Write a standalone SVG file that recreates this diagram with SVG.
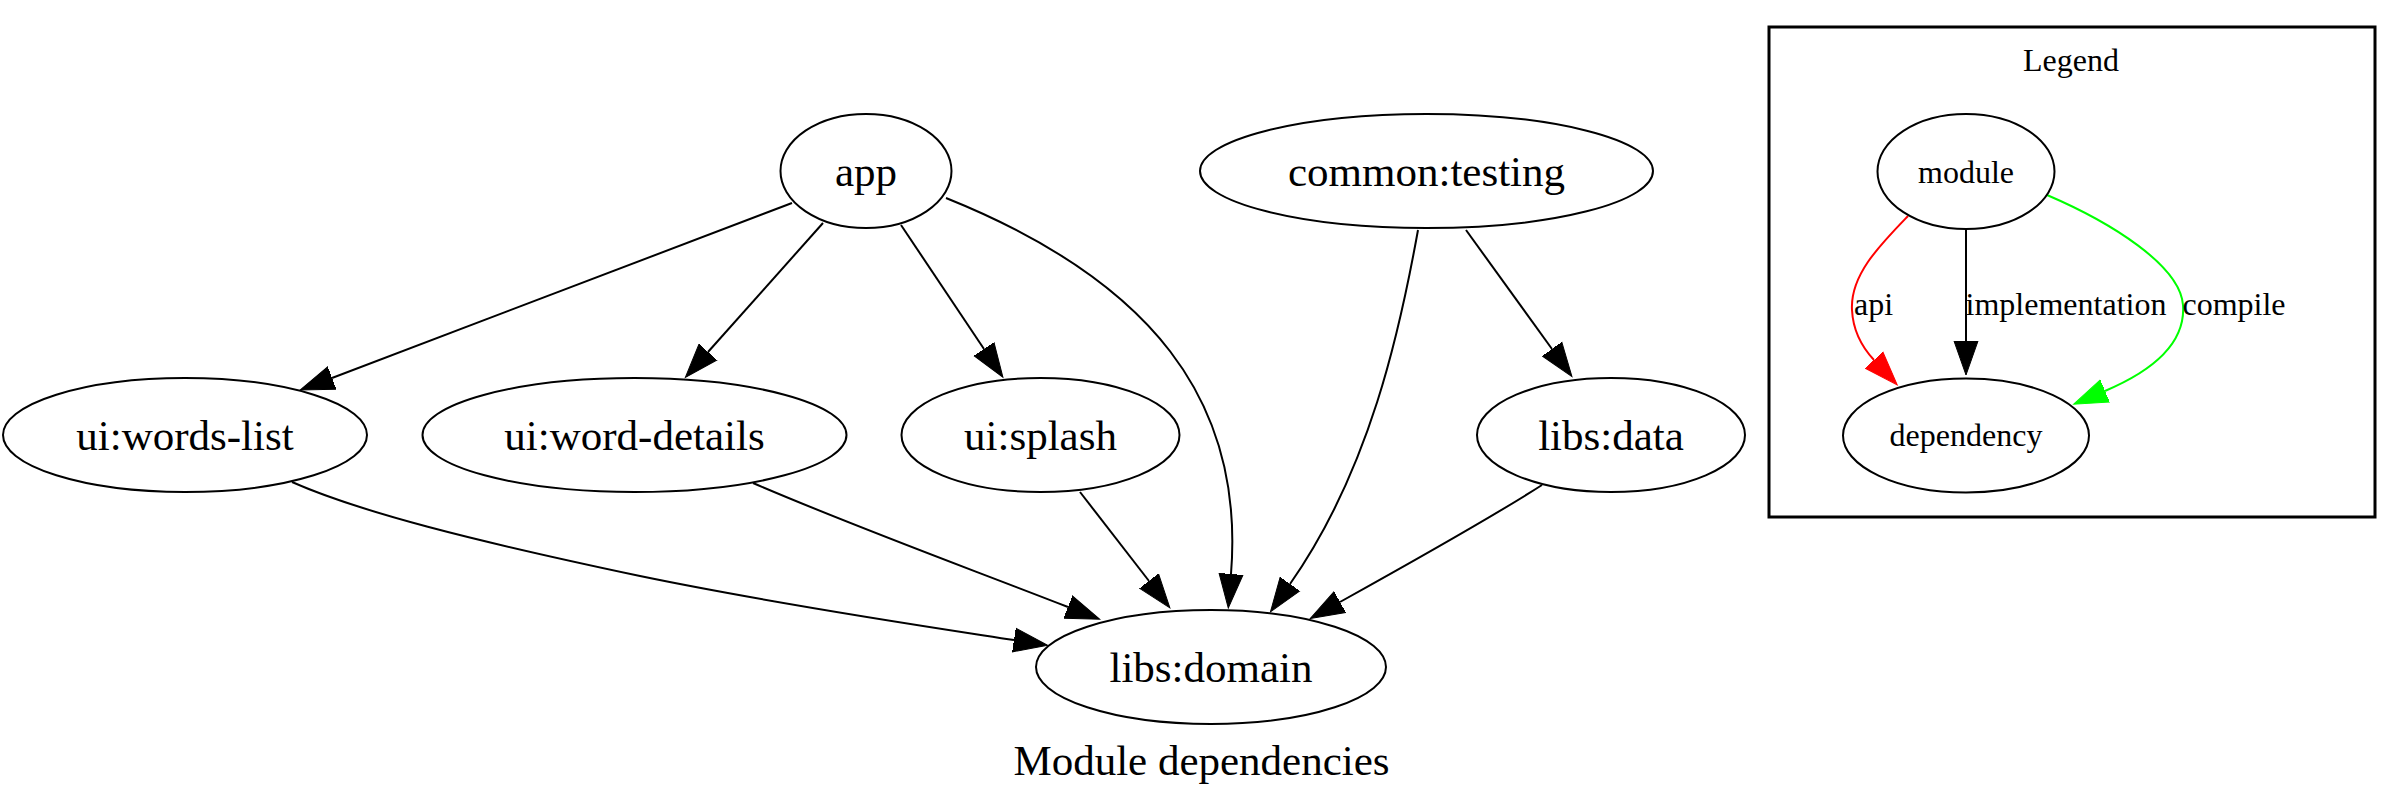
<svg xmlns="http://www.w3.org/2000/svg" width="2396" height="810" viewBox="0 0 2396 810">
<style>
  .node ellipse { fill: none; stroke: #000; stroke-width: 2; }
  .lbl { font-family: "Liberation Serif", "Times New Roman", serif; font-size: 43px; fill: #000; text-anchor: middle; }
  .lg { font-family: "Liberation Serif", "Times New Roman", serif; font-size: 32px; fill: #000; text-anchor: middle; }
  .edge { fill: none; stroke: #000; stroke-width: 2; }
  .e-black { marker-end: url(#ahBlack); }
  .e-red { stroke: #ff0000; marker-end: url(#ahRed); }
  .e-green { stroke: #00ff00; marker-end: url(#ahGreen); }
</style>
<defs>
  <marker id="ahBlack" markerUnits="userSpaceOnUse" markerWidth="36" markerHeight="26" viewBox="0 -13 36 26" refX="0" refY="0" orient="auto">
    <path d="M0,-12 L34,0 L0,12 Z" fill="#000" stroke="#000" stroke-width="1"/>
  </marker>
  <marker id="ahRed" markerUnits="userSpaceOnUse" markerWidth="36" markerHeight="26" viewBox="0 -13 36 26" refX="0" refY="0" orient="auto">
    <path d="M0,-12 L34,0 L0,12 Z" fill="#ff0000" stroke="#ff0000" stroke-width="1"/>
  </marker>
  <marker id="ahGreen" markerUnits="userSpaceOnUse" markerWidth="36" markerHeight="26" viewBox="0 -13 36 26" refX="0" refY="0" orient="auto">
    <path d="M0,-12 L34,0 L0,12 Z" fill="#00ff00" stroke="#00ff00" stroke-width="1"/>
  </marker>
</defs>
<rect x="0" y="0" width="2396" height="810" fill="#fff"/>

<g id="connectors">
  <path class="edge e-black" d="M792,203 L332,378"/>
  <path class="edge e-black" d="M823,223 L708,352"/>
  <path class="edge e-black" d="M901,225 L984,349"/>
  <path class="edge e-black" d="M946,198 C1150,280 1245,400 1231,574"/>
  <path class="edge e-black" d="M1466,230 L1552,349"/>
  <path class="edge e-black" d="M1418,230 C1400,330 1370,470 1290,584"/>
  <path class="edge e-black" d="M1542,485 C1500,512 1430,552 1340,602"/>
  <path class="edge e-black" d="M1080,492 L1149,581"/>
  <path class="edge e-black" d="M753,483 C850,525 960,565 1068,607"/>
  <path class="edge e-black" d="M292,482 C360,512 470,540 640,576 C780,605 930,627 1014,640"/>
</g>

<g id="node-app" class="node">
  <ellipse cx="866" cy="171" rx="85.5" ry="57"/>
  <text class="lbl" x="866" y="186">app</text>
</g>
<g id="node-common-testing" class="node">
  <ellipse cx="1426.5" cy="171" rx="226.5" ry="57"/>
  <text class="lbl" x="1426.5" y="186">common:testing</text>
</g>
<g id="node-ui-words-list" class="node">
  <ellipse cx="185" cy="435" rx="182" ry="57"/>
  <text class="lbl" x="185" y="450">ui:words-list</text>
</g>
<g id="node-ui-word-details" class="node">
  <ellipse cx="634.5" cy="435" rx="212" ry="57"/>
  <text class="lbl" x="634.5" y="450">ui:word-details</text>
</g>
<g id="node-ui-splash" class="node">
  <ellipse cx="1040.5" cy="435" rx="139" ry="57"/>
  <text class="lbl" x="1040.5" y="450">ui:splash</text>
</g>
<g id="node-libs-data" class="node">
  <ellipse cx="1611" cy="435" rx="134" ry="57"/>
  <text class="lbl" x="1611" y="450">libs:data</text>
</g>
<g id="node-libs-domain" class="node">
  <ellipse cx="1211" cy="667" rx="175" ry="57"/>
  <text class="lbl" x="1211" y="682">libs:domain</text>
</g>

<text id="graph-title" class="lbl" x="1201.5" y="775">Module dependencies</text>

<g id="legend">
  <rect x="1769" y="27" width="606" height="490" fill="none" stroke="#000" stroke-width="3"/>
  <text class="lg" x="2071" y="71">Legend</text>
  <g id="legend-connectors">
    <path class="edge e-black" d="M1966,229 L1966,341"/>
    <path class="edge e-red" d="M1908,216 C1880,245 1850,275 1852,310 C1853,330 1860,345 1874,360"/>
    <path class="edge e-green" d="M2047,195 C2110,222 2180,265 2183,305 C2186,345 2150,372 2105,391"/>
    <text class="lg" x="1873.5" y="315">api</text>
    <text class="lg" x="2066" y="315">implementation</text>
    <text class="lg" x="2234" y="315">compile</text>
  </g>
  <g id="legend-module" class="node">
    <ellipse cx="1966" cy="171.5" rx="88.5" ry="57.5"/>
    <text class="lg" x="1966" y="182.5">module</text>
  </g>
  <g id="legend-dependency" class="node">
    <ellipse cx="1966" cy="435.5" rx="123" ry="57"/>
    <text class="lg" x="1966" y="446">dependency</text>
  </g>
</g>
</svg>
